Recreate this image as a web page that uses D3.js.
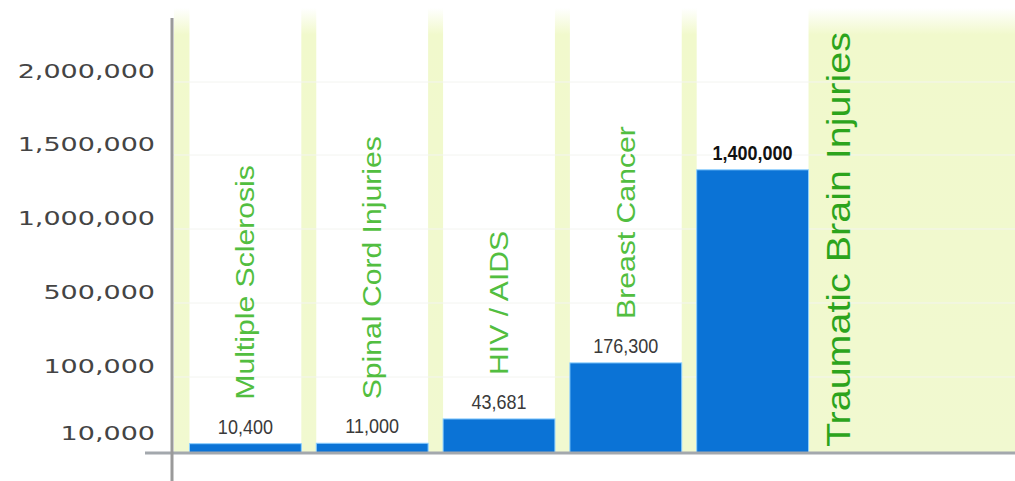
<!DOCTYPE html>
<html>
<head>
<meta charset="utf-8">
<script src="https://cdn.jsdelivr.net/npm/d3@7"></script>
<style>
  body { margin: 0; background: #fff; }
  svg { display: block; }
</style>
</head>
<body>
<script>
// chart data
const categories = ["Multiple Sclerosis", "Spinal Cord Injuries", "HIV / AIDS", "Breast Cancer", "Traumatic Brain Injuries"];
const values = [10400, 11000, 43681, 176300, 1400000];
const tickValues = [10000, 100000, 500000, 1000000, 1500000, 2000000];
// the chart's axis is uneven: each labelled step gets the same height
const scaleStops = [0, 10000, 100000, 500000, 1000000, 1500000, 2000000];

const W = 1015, H = 481;
const baseY = 453, axisX = 172;

const svg = d3.select("body").append("svg")
    .attr("width", W)
    .attr("height", H);

const defs = svg.append("defs");
const grad = defs.append("linearGradient")
    .attr("id", "fade")
    .attr("x1", 0).attr("x2", 0).attr("y1", 0).attr("y2", 1);
grad.append("stop").attr("offset", "0%").attr("stop-color", "#ffffff");
grad.append("stop").attr("offset", "6%").attr("stop-color", "#f1f9cc");
grad.append("stop").attr("offset", "100%").attr("stop-color", "#f1f9d0");

const x = d3.scaleBand()
    .domain(categories)
    .range([182, 816])
    .paddingInner(0.118)
    .paddingOuter(0.059);

const y = d3.scaleLinear()
    .domain(scaleStops)
    .range([baseY, 444, 377, 303, 229, 155, 82]);

// yellow backdrop and white panels
svg.append("rect")
    .attr("x", axisX + 2)
    .attr("y", 8)
    .attr("width", W - axisX - 2)
    .attr("height", baseY - 8)
    .attr("fill", "url(#fade)");

svg.selectAll(".panel")
    .data(categories)
    .enter()
    .append("rect")
    .attr("class", "panel")
    .attr("x", d => x(d))
    .attr("y", 0)
    .attr("width", x.bandwidth())
    .attr("height", baseY)
    .attr("fill", "#ffffff");

// faint grid
svg.selectAll(".grid")
    .data(tickValues.slice(1))
    .enter()
    .append("line")
    .attr("class", "grid")
    .attr("x1", axisX).attr("x2", W)
    .attr("y1", d => y(d)).attr("y2", d => y(d))
    .attr("stroke", "#f3f4f0")
    .attr("stroke-width", 1);

// bars
svg.selectAll(".bar")
    .data(values)
    .enter()
    .append("rect")
    .attr("class", "bar")
    .attr("x", (d, i) => x(categories[i]))
    .attr("y", d => y(d))
    .attr("width", x.bandwidth())
    .attr("height", d => baseY - y(d))
    .attr("fill", "#0b73d6")
    .attr("stroke", "#8ccfff")
    .attr("stroke-width", 1);

// value labels
const last = values.length - 1;
svg.selectAll(".val")
    .data(values)
    .enter()
    .append("text")
    .attr("class", "val")
    .attr("transform", d => `translate(0,${y(d) - 10}) scale(1,1.12)`)
    .attr("x", (d, i) => x(categories[i]) + x.bandwidth() / 2)
    .attr("text-anchor", "middle")
    .style("font-family", "'Liberation Sans', Arial, sans-serif")
    .style("font-size", "18px")
    .style("font-weight", (d, i) => i === last ? "bold" : "normal")
    .attr("fill", (d, i) => i === last ? "#111" : "#3a3a3a")
    .text(d => d3.format(",")(d));

// category labels (rotated)
svg.selectAll(".cat")
    .data(categories)
    .enter()
    .append("text")
    .attr("class", "cat")
    .attr("transform", (d, i) => {
        if (i === last) {
            return `translate(${x(d) + x.bandwidth() + 30},${baseY - 6}) rotate(-90) scale(1.16,1)`;
        }
        return `translate(${x(d) + x.bandwidth() / 2},${y(values[i]) - 44}) rotate(-90) scale(1.16,1)`;
    })
    .attr("text-anchor", "start")
    .attr("dominant-baseline", "central")
    .style("font-family", "'Liberation Sans', Arial, sans-serif")
    .style("font-size", (d, i) => i === last ? "34px" : "26px")
    .attr("fill", (d, i) => i === last ? "#2ca41c" : "#52be40")
    .text(d => d);

// y axis
const yAxis = svg.append("g")
    .attr("transform", `translate(${axisX},0)`)
    .call(d3.axisLeft(y).tickValues(tickValues).tickSize(0).tickFormat(d3.format(",")));
yAxis.select(".domain").remove();
yAxis.selectAll("text")
    .attr("x", -17 / 1.35)
    .attr("y", -11)
    .attr("transform", "scale(1.35,1)")
    .style("font-family", "'DejaVu Sans', Verdana, sans-serif")
    .style("font-size", "20px")
    .attr("fill", "#444");

// axis lines
svg.append("line")
    .attr("x1", 145).attr("x2", W)
    .attr("y1", baseY).attr("y2", baseY)
    .attr("stroke", "#a3a8ad")
    .attr("stroke-width", 3);

svg.append("line")
    .attr("x1", axisX).attr("x2", axisX)
    .attr("y1", 18).attr("y2", H)
    .attr("stroke", "#9a9a9a")
    .attr("stroke-width", 3);
</script>
</body>
</html>
